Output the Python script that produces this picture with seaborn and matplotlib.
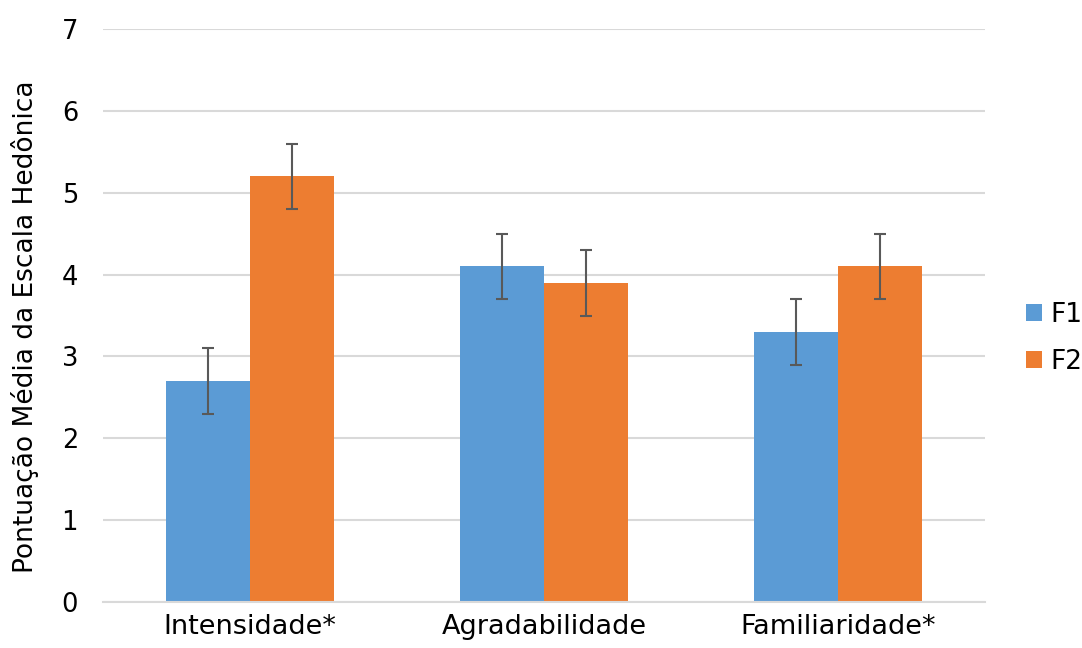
import matplotlib
matplotlib.use('Agg')
import matplotlib.pyplot as plt
import seaborn as sns
import pandas as pd

# data
categorias = ['Intensidade*', 'Agradabilidade', 'Familiaridade*']
f1 = [2.7, 4.1, 3.3]
f2 = [5.2, 3.9, 4.1]
erro_f1 = [0.4, 0.4, 0.4]
erro_f2 = [0.4, 0.4, 0.4]
series = ['F1', 'F2']
cores = ['#5B9BD5', '#ED7D31']

df = pd.DataFrame({
    'categoria': categorias * 2,
    'valor': f1 + f2,
    'erro': erro_f1 + erro_f2,
    'serie': [series[0]] * 3 + [series[1]] * 3,
})

sns.set_style('white')
plt.rcParams['font.family'] = ['DejaVu Sans']
plt.rcParams['text.color'] = 'black'

fig = plt.figure(figsize=(10.82, 6.48), dpi=100)
ax = fig.add_axes([0.0952, 0.071, 0.815, 0.884])

sns.barplot(data=df, x='categoria', y='valor', hue='serie', palette=cores,
            errorbar=None, width=0.57, saturation=1, ax=ax, zorder=2,
            linewidth=0)

# error bars on the bar centres
for cont, s in zip(ax.containers, series):
    sub = df[df.serie == s]
    xs = [p.get_x() + p.get_width() / 2 for p in cont]
    ax.errorbar(xs, sub.valor, yerr=sub.erro, fmt='none', ecolor='#595959',
                elinewidth=1.5, capsize=4.5, capthick=1.5, zorder=3)

ax.set_ylim(0, 7)
ax.set_xlim(-0.5, 2.5)
ax.set_yticks(range(0, 8))
ax.yaxis.grid(True, color='#D9D9D9', linewidth=1.5, zorder=0)
ax.set_axisbelow(True)
for sp in ['top', 'right', 'left']:
    ax.spines[sp].set_visible(False)
ax.spines['bottom'].set_color('#D9D9D9')
ax.spines['bottom'].set_linewidth(1.5)
ax.tick_params(axis='y', length=0, labelsize=18.5, colors='black', pad=18)
ax.tick_params(axis='x', length=0, labelsize=19.5, colors='black', pad=9)
ax.set_xlabel('')
ax.set_ylabel('Pontuação Média da Escala Hedônica', fontsize=19, color='black')
ax.yaxis.set_label_coords(-0.073, 0.48)

ax.legend(loc='center left', bbox_to_anchor=(1.02, 0.46), frameon=False,
          fontsize=19, handlelength=0.6, handleheight=0.6, handletextpad=0.3,
          labelspacing=0.8)

fig.savefig('out.png', dpi=100)
